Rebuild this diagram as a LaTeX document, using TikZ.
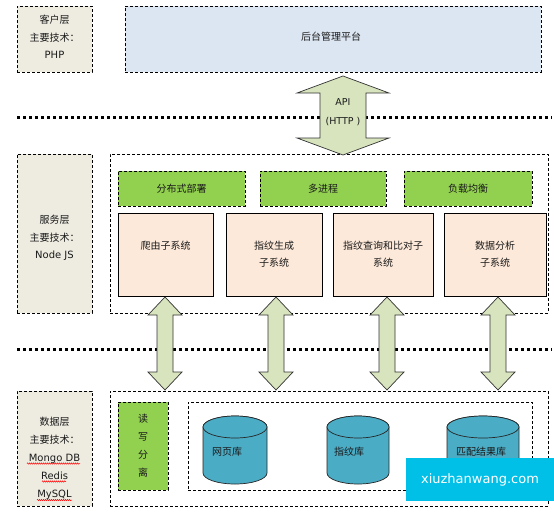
\documentclass[tikz,border=0pt]{standalone}
\usepackage{fontspec}
\setmainfont{DejaVu Sans}
\newfontfamily\cjk{Noto Sans CJK SC}
\usetikzlibrary{decorations.pathmorphing}
\definecolor{beige}{HTML}{EEECE1}
\definecolor{platblue}{HTML}{DCE6F2}
\definecolor{grn}{HTML}{92D050}
\definecolor{peach}{HTML}{FDE9D9}
\definecolor{arrfill}{HTML}{D7E4BD}
\definecolor{cylfill}{HTML}{4BACC6}
\definecolor{wmark}{HTML}{00C0E8}
\definecolor{txt}{HTML}{1A1A1A}
\tikzset{
  dbox/.style={draw=black, line width=0.7pt, dash pattern=on 3pt off 2pt, inner sep=0pt},
  layerbox/.style={dbox, fill=beige},
  greenbox/.style={dbox, fill=grn, font=\cjk\fontsize{10}{12}\selectfont, text=txt},
  peachbox/.style={draw=black, line width=0.7pt, fill=peach, inner sep=0pt, align=center,
    font=\cjk\fontsize{10}{17}\selectfont, text=txt},
  ltxt/.style={align=center, text=txt, inner sep=0pt},
  dotline/.style={line width=3pt, dash pattern=on 3pt off 3pt},
  arrst/.style={draw=black!80, line width=0.7pt, fill=arrfill},
  cylst/.style={draw=black!85, line width=0.7pt, fill=cylfill},
  squig/.style={red, line width=0.5pt, decorate, decoration={snake, amplitude=0.7pt, segment length=2pt}}
}
\newcommand\vdarrow[6]{%
  \filldraw[arrst] (#1,-#2) -- (#1+#4,-#2-#6) -- (#1+#5,-#2-#6) -- (#1+#5,-#3+#6) -- (#1+#4,-#3+#6)
   -- (#1,-#3) -- (#1-#4,-#3+#6) -- (#1-#5,-#3+#6) -- (#1-#5,-#2-#6) -- (#1-#4,-#2-#6) -- cycle;}
\newcommand\mycyl[2]{%
  \filldraw[cylst] (#1-#2,-427) -- (#1-#2,-473) arc[start angle=180,end angle=360,x radius=#2,y radius=11]
   -- (#1+#2,-427) arc[start angle=0,end angle=180,x radius=#2,y radius=11] -- cycle;
  \draw[cylst] (#1,-427) ellipse[x radius=#2,y radius=11];}
\begin{document}
\begin{tikzpicture}[x=1pt,y=1pt]
\useasboundingbox (0,0) rectangle (554,-523);
\fill[white] (0,0) rectangle (554,-523);

% client layer
\node[layerbox, minimum width=75pt, minimum height=66pt] (clientL) at (54.5,-39) {};
\node[ltxt, font=\fontsize{10}{17.5}\selectfont] (clientT) at (54.5,-37) {{\cjk 客户层}\\{\cjk 主要技术：}\\PHP};
\node[dbox, fill=platblue, minimum width=416pt, minimum height=66pt] (plat) at (333,-39) {};
\node[ltxt, font=\cjk\fontsize{10}{12}\selectfont] (platT) at (331,-37) {后台管理平台};

% dotted separators
\draw[dotline] (17,-117) -- (552,-117);
\draw[dotline] (17,-349) -- (552,-349);

% service layer
\node[layerbox, minimum width=75pt, minimum height=159pt] (servL) at (54.5,-233.5) {};
\node[ltxt, font=\fontsize{10}{17.5}\selectfont] (servT) at (54.5,-238) {{\cjk 服务层}\\{\cjk 主要技术：}\\Node JS};
\node[dbox, minimum width=438pt, minimum height=159pt] (servO) at (329,-233.5) {};
\node[greenbox, minimum width=127pt, minimum height=35pt] (g1) at (181.5,-188.5) {分布式部署};
\node[greenbox, minimum width=126pt, minimum height=35pt] (g2) at (323,-188.5) {多进程};
\node[greenbox, minimum width=128pt, minimum height=35pt] (g3) at (468,-188.5) {负载均衡};
\node[peachbox, minimum width=95pt, minimum height=83pt] (p1) at (165.5,-254.5) {爬由子系统\\\phantom{子}};
\node[peachbox, minimum width=96pt, minimum height=83pt] (p2) at (274,-254.5) {指纹生成\\子系统};
\node[peachbox, minimum width=100pt, minimum height=83pt] (p3) at (383,-254.5) {指纹查询和比对子\\系统};
\node[peachbox, minimum width=102pt, minimum height=83pt] (p4) at (495,-254.5) {数据分析\\子系统};

% data layer
\node[layerbox, minimum width=75pt, minimum height=115pt] (dataL) at (54.5,-448.5) {};
\node[ltxt, font=\fontsize{10}{18}\selectfont] (dataT) at (54.5,-458) {{\cjk 数据层}\\{\cjk 主要技术：}\\Mongo DB\\Redis\\MySQL};
\draw[squig] (27,-463.5) -- (80,-463.5);
\draw[squig] (42,-481.5) -- (66,-481.5);
\draw[squig] (37,-500) -- (72,-500);
\node[dbox, minimum width=438pt, minimum height=115pt] (dataO) at (329,-448.5) {};
\node[dbox, fill=grn, minimum width=50pt, minimum height=88pt, ltxt, font=\cjk\fontsize{10}{18}\selectfont] (rw) at (143,-446) {读\\写\\分\\离};
\node[dbox, minimum width=344pt, minimum height=88pt] (dbIn) at (360,-446) {};
\mycyl{235}{32}
\mycyl{358}{31}
\mycyl{483}{36}
\node[ltxt, anchor=west, font=\cjk\fontsize{10}{12}\selectfont] (db1) at (212,-452) {网页库};
\node[ltxt, anchor=west, font=\cjk\fontsize{10}{12}\selectfont] (db2) at (334,-452) {指纹库};
\node[ltxt, anchor=west, font=\cjk\fontsize{10}{12}\selectfont] (db3) at (456,-452) {匹配结果库};

% block arrows
\vdarrow{343}{76}{155}{46}{23}{17}
\node[ltxt, font=\fontsize{9.5}{19}\selectfont] (api) at (343,-112.5) {API\\(HTTP )};
\vdarrow{165}{297}{390}{17}{8}{18}
\vdarrow{276}{297}{390}{17}{8}{18}
\vdarrow{387}{297}{390}{17}{8}{18}
\vdarrow{498}{297}{390}{17}{8}{18}

% watermark
\node[fill=wmark, minimum width=148pt, minimum height=43pt, inner sep=0pt, text=white,
  font=\fontsize{13}{15}\selectfont] (wm) at (480,-479.5) {xiuzhanwang.com};
\end{tikzpicture}
\end{document}
